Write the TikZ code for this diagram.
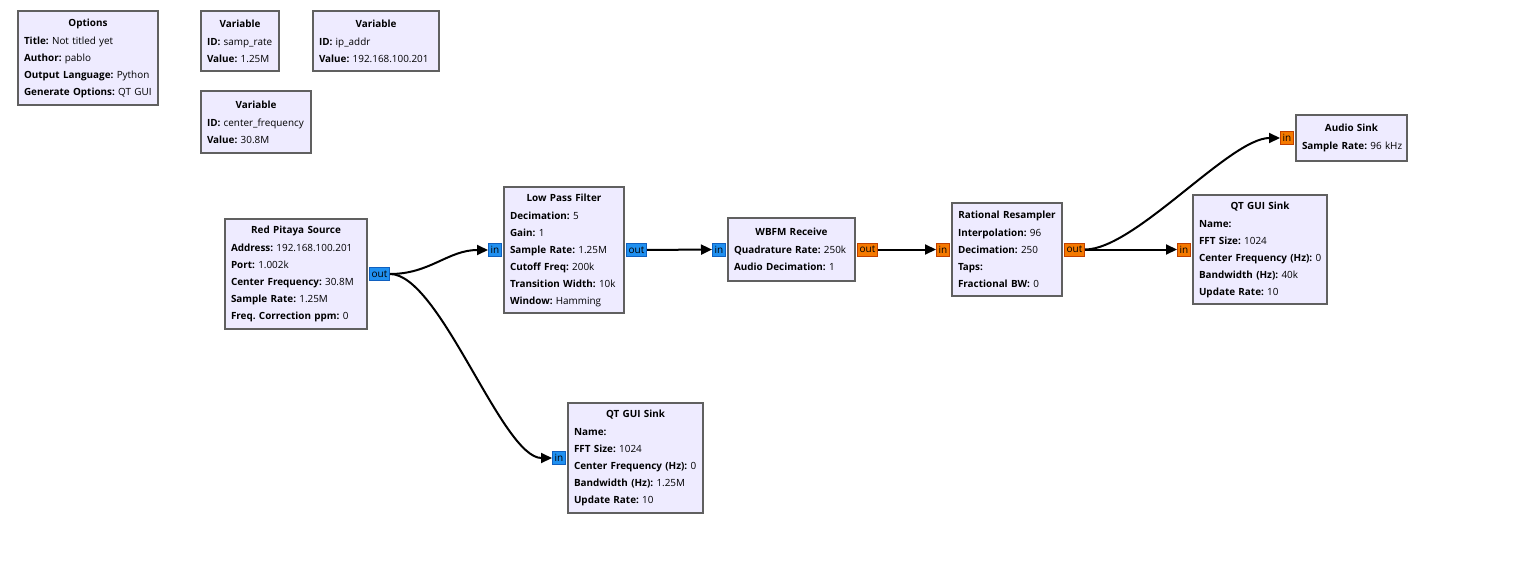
\documentclass[tikz,border=0pt]{standalone}
\usepackage{fontspec}
\setmainfont{Open Sans}
\usepackage{tikz}
\usetikzlibrary{arrows.meta, positioning}
\definecolor{blockfill}{HTML}{EEEBFF}
\definecolor{blockline}{HTML}{606060}
\definecolor{cplxfill}{HTML}{2090F0}
\definecolor{cplxline}{HTML}{1060C0}
\definecolor{realfill}{HTML}{F57900}
\definecolor{realline}{HTML}{C04000}
\frenchspacing
\newcommand{\kv}[2]{\mbox{\textbf{#1:} #2}}
\newcommand{\blocktitle}[1]{\makebox[\linewidth]{\textbf{#1}}\\[1pt]}

\begin{document}
\begin{tikzpicture}[x=1pt, y=-1pt,
        block/.style={draw=blockline, line width=2pt, fill=blockfill,
                      inner xsep=6pt, inner ysep=0pt, align=left,
                      font=\fontsize{9.9pt}{17pt}\selectfont},
        port/.style={line width=1pt, inner sep=0pt, minimum height=13pt,
                     font=\fontsize{10pt}{12pt}\selectfont},
        cin/.style={port, draw=cplxline, fill=cplxfill, minimum width=13pt},
        cout/.style={port, draw=cplxline, fill=cplxfill, minimum width=20pt},
        rin/.style={port, draw=realline, fill=realfill, minimum width=13pt},
        rout/.style={port, draw=realline, fill=realfill, minimum width=20pt},
        link/.style={-{Triangle[length=11pt, width=10pt]}, line width=2pt}
      ]
      \useasboundingbox (0,0) rectangle (1526,570);

      % variables and options
      \node[block, text width=128pt, minimum height=94pt] (opts) at (88,58)
        {\blocktitle{Options}
         \kv{Title}{Not titled yet}\\
         \kv{Author}{pablo}\\
         \kv{Output Language}{Python}\\
         \kv{Generate Options}{QT GUI}};
      \node[block, text width=66pt, minimum height=60pt] (sampvar) at (240,41)
        {\blocktitle{Variable}
         \kv{ID}{samp\_rate}\\
         \kv{Value}{1.25M}};
      \node[block, text width=114pt, minimum height=60pt] (ipvar) at (376,41)
        {\blocktitle{Variable}
         \kv{ID}{ip\_addr}\\
         \kv{Value}{192.168.100.201}};
      \node[block, text width=98pt, minimum height=62pt] (cfvar) at (256,122)
        {\blocktitle{Variable}
         \kv{ID}{center\_frequency}\\
         \kv{Value}{30.8M}};

      % signal chain
      \node[block, text width=130pt, minimum height=110pt] (src) at (296,274)
        {\blocktitle{Red Pitaya Source}
         \kv{Address}{192.168.100.201}\\
         \kv{Port}{1.002k}\\
         \kv{Center Frequency}{30.8M}\\
         \kv{Sample Rate}{1.25M}\\
         \kv{Freq. Correction ppm}{0}};
      \node[block, text width=108pt, minimum height=126pt] (lpf) at (564,250)
        {\blocktitle{Low Pass Filter}
         \kv{Decimation}{5}\\
         \kv{Gain}{1}\\
         \kv{Sample Rate}{1.25M}\\
         \kv{Cutoff Freq}{200k}\\
         \kv{Transition Width}{10k}\\
         \kv{Window}{Hamming}};
      \node[block, text width=115pt, minimum height=63pt] (wbfm) at (791.5,249.5)
        {\blocktitle{WBFM Receive}
         \kv{Quadrature Rate}{250k}\\
         \kv{Audio Decimation}{1}};
      \node[block, text width=98pt, minimum height=93pt] (resamp) at (1007,249.5)
        {\blocktitle{Rational Resampler}
         \kv{Interpolation}{96}\\
         \kv{Decimation}{250}\\
         \textbf{Taps:}\\
         \kv{Fractional BW}{0}};
      \node[block, text width=99pt, minimum height=46pt] (audio) at (1351.5,138)
        {\blocktitle{Audio Sink}
         \kv{Sample Rate}{96 kHz}};
      \node[block, text width=122pt, minimum height=109pt] (fftaudio) at (1260,249.5)
        {\blocktitle{QT GUI Sink}
         \textbf{Name:}\\
         \kv{FFT Size}{1024}\\
         \kv{Center Frequency (Hz)}{0}\\
         \kv{Bandwidth (Hz)}{40k}\\
         \kv{Update Rate}{10}};
      \node[block, text width=123pt, minimum height=110pt] (fftraw) at (635.5,458)
        {\blocktitle{QT GUI Sink}
         \textbf{Name:}\\
         \kv{FFT Size}{1024}\\
         \kv{Center Frequency (Hz)}{0}\\
         \kv{Bandwidth (Hz)}{1.25M}\\
         \kv{Update Rate}{10}};

      % ports
      \node[cout, right=1pt of src]      (src-out)      {out};
      \node[cin,  left=1pt of lpf]       (lpf-in)       {in};
      \node[cout, right=1pt of lpf]      (lpf-out)      {out};
      \node[cin,  left=1pt of wbfm]      (wbfm-in)      {in};
      \node[rout, right=1pt of wbfm]     (wbfm-out)     {out};
      \node[rin,  left=1pt of resamp]    (resamp-in)    {in};
      \node[rout, right=1pt of resamp]   (resamp-out)   {out};
      \node[rin,  left=1pt of audio]     (audio-in)     {in};
      \node[rin,  left=1pt of fftaudio]  (fftaudio-in)  {in};
      \node[cin,  left=1pt of fftraw]    (fftraw-in)    {in};

      % connections
      \draw[link] (src-out.east) .. controls +(40,0) and +(-40,0) .. (lpf-in.west);
      \draw[link] (src-out.east) .. controls +(50,0) and +(-50,0) .. (fftraw-in.west);
      \draw[link] (lpf-out) -- (wbfm-in);
      \draw[link] (wbfm-out) -- (resamp-in);
      \draw[link] (resamp-out.east) .. controls +(50,0) and +(-50,0) .. (audio-in.west);
      \draw[link] (resamp-out) -- (fftaudio-in);
    \end{tikzpicture}
\end{document}
